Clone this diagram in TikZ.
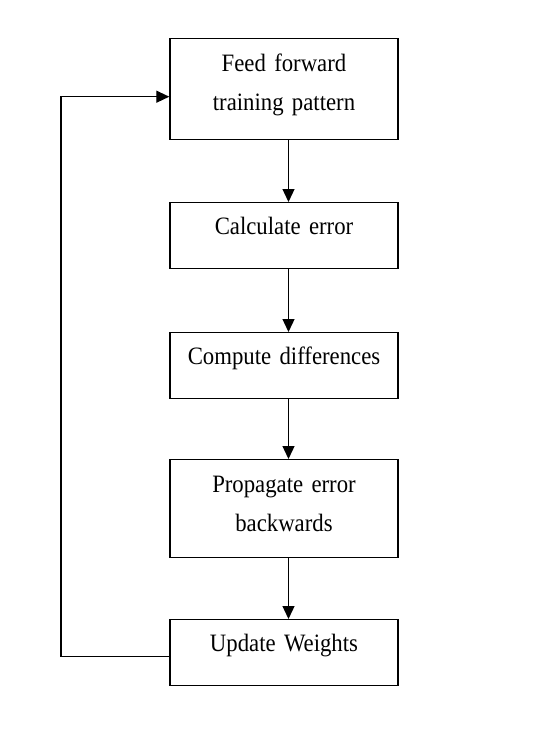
\documentclass[tikz,border=0pt]{standalone}
\usepackage{fontspec}
\setmainfont{Liberation Serif}[FakeStretch=0.91]
\usetikzlibrary{arrows.meta}

\begin{document}
\begin{tikzpicture}[x=1pt,y=-1pt]
    % styles for the boxes and the arrows
    \tikzstyle{every node}=[font=\fontsize{25}{39}\selectfont]
    \tikzstyle{stepbox}=[draw, line width=1.4pt, anchor=north, align=center, text width=220pt, inner xsep=4pt, inner ysep=0pt, text height=32pt, text depth=34pt]
    \tikzstyle{flow}=[line width=1.3pt, -{Triangle[length=13pt,width=12pt]}]

    \useasboundingbox (0,0) rectangle (554,732);

    % the steps
    \node[stepbox, text height=33pt, text depth=68pt] (feed) at (284,38) {Feed forward\\training pattern};
    \node[stepbox] (calc) at (284,202) {Calculate error};
    \node[stepbox] (diff) at (284,332) {Compute differences};
    \node[stepbox, text height=33pt, text depth=65pt] (prop) at (284,459) {Propagate error\\backwards};
    \node[stepbox] (update) at (284,619) {Update Weights};

    % arrows between the steps
    \draw[flow] ([xshift=4.5pt]feed.south) -- ([xshift=4.5pt]calc.north);
    \draw[flow] ([xshift=4.5pt]calc.south) -- ([xshift=4.5pt]diff.north);
    \draw[flow] ([xshift=4.5pt]diff.south) -- ([xshift=4.5pt]prop.north);
    \draw[flow] ([xshift=4.5pt]prop.south) -- ([xshift=4.5pt]update.north);

    % loop back to the first step
    \coordinate (loop) at (61,400);
    \draw[flow] ([yshift=-4pt]update.west) -| (loop) |- ([yshift=-7.5pt]feed.west);
\end{tikzpicture}
\end{document}
